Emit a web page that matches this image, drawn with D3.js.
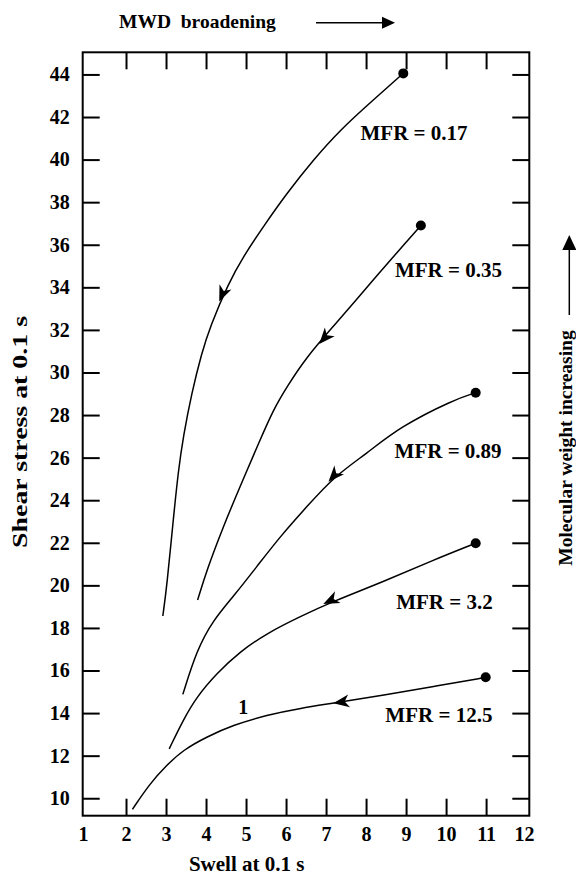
<!DOCTYPE html>
<html>
<head>
<meta charset="utf-8">
<script src="https://cdn.jsdelivr.net/npm/d3@7/dist/d3.min.js"></script>
<style>
  body { margin: 0; background: #fff; }
  text { font-family: "Liberation Serif", "Times New Roman", serif; font-weight: bold; fill: #000; }
</style>
</head>
<body>
<svg id="chart" width="576" height="877"></svg>
<script>

// Curves, ordered from the dot (upper right) down to the open end.
var mfr017 = [[8.93,44.05],[8.18,42.80],[7.35,41.39],[6.68,39.98],[6.02,38.42],[5.43,36.85],
  [4.93,35.44],[4.56,34.19],[4.10,32.15],[3.89,30.90],[3.64,29.02],[3.43,26.98],[3.31,25.42],
  [3.18,23.07],[3.02,19.94],[2.92,18.56]];
var mfr035 = [[9.37,36.90],[8.68,35.44],[7.68,33.25],[7.14,32.08],[6.52,30.74],[6.02,29.33],
  [5.68,28.24],[5.35,26.83],[4.85,24.64],[4.43,22.76],[4.02,20.72],[3.79,19.31]];
var mfr089 = [[10.74,29.05],[10.18,28.71],[8.85,27.45],[8.02,26.20],[7.20,25.11],[6.52,23.70],
  [5.85,22.29],[5.27,20.88],[4.68,19.47],[4.18,18.37],[3.77,16.97],[3.42,14.88]];
var mfr32 = [[10.74,21.98],[9.68,21.19],[8.43,20.17],[7.15,19.23],[6.35,18.53],[5.52,17.75],
  [4.85,16.89],[4.27,15.87],[3.77,14.77],[3.43,13.68],[3.08,12.32]];
var mfr125 = [[10.99,15.68],[9.68,15.24],[8.43,14.85],[7.28,14.49],[6.35,14.23],[5.52,13.91],
  [4.68,13.44],[4.02,12.89],[3.43,12.27],[3.02,11.56],[2.60,10.70],[2.16,9.48]];

// Arrow tips on each curve.
var arrowTips = [[4.33,33.33],[6.83,31.34],[7.06,24.87],[6.93,19.13],[7.18,14.46]];

// Series labels and where they sit.
var mfrNames = ['MFR = 0.17', 'MFR = 0.35', 'MFR = 0.89', 'MFR = 3.2', 'MFR = 12.5'];
var labelAt = [[9.20,41.25],[10.06,34.81],[10.05,26.31],[9.96,19.22],[9.82,13.91]];

// Ticks.
var xTicks = [1,2,3,4,5,6,7,8,9,10,11,12];
var yTicks = [10,12,14,16,18,20,22,24,26,28,30,32,34,36,38,40,42,44];

(function() {

  var series = [mfr017, mfr035, mfr089, mfr32, mfr125].map(function(pts, i) {
    return { points: pts, tip: arrowTips[i], name: mfrNames[i], at: labelAt[i] };
  });

  // Frame.
  var pLeft = 82.7, pRight = 529.3, pTop = 52.3, pBottom = 815.7;
  var svg = d3.select('#chart');

  var x = d3.scaleLinear().domain([0.9175, 12.08]).range([pLeft, pRight]);
  var y = d3.scaleLinear().domain([9.18, 45.04]).range([pBottom, pTop]);

  // Axes with inward ticks.
  function styleAxis(g) {
    g.select('.domain').remove();
    g.selectAll('line').attr('stroke', '#000').attr('stroke-width', 2);
    g.selectAll('text').attr('font-size', 20).attr('fill', '#000')
      .attr('font-family', '"Liberation Serif", "Times New Roman", serif');
  }

  svg.append('g').attr('transform', 'translate(0,' + pBottom + ')')
    .call(d3.axisBottom(x).tickValues(xTicks).tickFormat(d3.format('d'))
      .tickSizeInner(-17).tickSizeOuter(0).tickPadding(11))
    .call(styleAxis)
    .call(function(g) {
      g.selectAll('.tick').filter(function(d) { return d === 1 || d === 12; })
        .select('line').remove();
      g.selectAll('.tick').filter(function(d) { return d === 1; })
        .select('text').attr('x', -3);
      g.selectAll('.tick').filter(function(d) { return d === 12; })
        .select('text').attr('x', -2);
    });

  svg.append('g').attr('transform', 'translate(0,' + pTop + ')')
    .call(d3.axisTop(x).tickValues(xTicks.slice(1, -1)).tickFormat('')
      .tickSizeInner(-17).tickSizeOuter(0))
    .call(styleAxis);

  svg.append('g').attr('transform', 'translate(' + pLeft + ',0)')
    .call(d3.axisLeft(y).tickValues(yTicks).tickFormat(d3.format('d'))
      .tickSizeInner(-17).tickSizeOuter(0).tickPadding(13))
    .call(styleAxis);

  svg.append('g').attr('transform', 'translate(' + pRight + ',0)')
    .call(d3.axisRight(y).tickValues(yTicks).tickFormat('')
      .tickSizeInner(-17).tickSizeOuter(0))
    .call(styleAxis);

  svg.append('rect')
    .attr('x', pLeft).attr('y', pTop)
    .attr('width', pRight - pLeft).attr('height', pBottom - pTop)
    .attr('fill', 'none').attr('stroke', '#000').attr('stroke-width', 2);

  // Curves.
  var line = d3.line()
    .x(function(d) { return x(d[0]); })
    .y(function(d) { return y(d[1]); })
    .curve(d3.curveBasis);

  var arrowShape = 'M0,0 L-16,-6.5 L-11.5,0 L-16,6.5 Z';

  series.forEach(function(s) {

    svg.append('path')
      .attr('d', line(s.points))
      .attr('fill', 'none').attr('stroke', '#000').attr('stroke-width', 1.5);

    // Start dot.
    svg.append('circle')
      .attr('cx', x(s.points[0][0])).attr('cy', y(s.points[0][1]))
      .attr('r', 5).attr('fill', '#000');

    // Arrow head pointing along the local segment.
    var k = 0;
    for (var i = 0; i < s.points.length - 1; i++) {
      if (s.points[i + 1][0] <= s.tip[0]) { k = i; break; }
    }
    var a = s.points[k], b = s.points[k + 1];
    var ang = Math.atan2(y(b[1]) - y(a[1]), x(b[0]) - x(a[0])) * 180 / Math.PI;
    svg.append('path')
      .attr('d', arrowShape)
      .attr('transform', 'translate(' + x(s.tip[0]) + ',' + y(s.tip[1]) + ') rotate(' + ang + ')')
      .attr('fill', '#000');

    // Label.
    svg.append('text')
      .attr('x', x(s.at[0])).attr('y', y(s.at[1])).attr('dy', '0.35em')
      .attr('text-anchor', 'middle').attr('font-size', 21)
      .text(s.name);

  });

  // Curve number.
  svg.append('text')
    .attr('x', x(4.93)).attr('y', y(14.30)).attr('dy', '0.35em')
    .attr('text-anchor', 'middle').attr('font-size', 20)
    .text('1');

  // Axis titles.
  svg.append('text')
    .attr('x', 246.7).attr('y', 871)
    .attr('text-anchor', 'middle').attr('font-size', 21)
    .text('Swell at 0.1 s');

  svg.append('text')
    .attr('transform', 'translate(27,432) rotate(-90)')
    .attr('text-anchor', 'middle').attr('font-size', 21)
    .attr('textLength', 232).attr('lengthAdjust', 'spacingAndGlyphs')
    .text('Shear stress at 0.1 s');

  // Top note with arrow.
  svg.append('text')
    .attr('x', 119).attr('y', 28)
    .attr('font-size', 19.5)
    .attr('xml:space', 'preserve')
    .text('MWD  broadening');
  svg.append('line')
    .attr('x1', 316).attr('y1', 22.7).attr('x2', 386).attr('y2', 22.7)
    .attr('stroke', '#000').attr('stroke-width', 1.5);
  svg.append('path')
    .attr('d', 'M0,0 L-13,-6 L-13,6 Z')
    .attr('transform', 'translate(395,22.7)')
    .attr('fill', '#000');

  // Right note with arrow.
  svg.append('text')
    .attr('transform', 'translate(572,448) rotate(-90)')
    .attr('text-anchor', 'middle').attr('font-size', 19.5)
    .text('Molecular weight increasing');
  svg.append('line')
    .attr('x1', 569.3).attr('y1', 315).attr('x2', 569.3).attr('y2', 245)
    .attr('stroke', '#000').attr('stroke-width', 1.5);
  svg.append('path')
    .attr('d', 'M0,0 L-7,15 L7,15 Z')
    .attr('transform', 'translate(569.3,235)')
    .attr('fill', '#000');

})();

</script>
</body>
</html>
